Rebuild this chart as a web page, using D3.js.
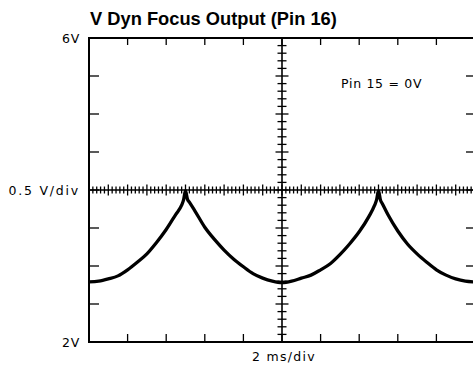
<!DOCTYPE html>
<html>
<head>
<meta charset="utf-8">
<script src="https://cdn.jsdelivr.net/npm/d3@7"></script>
<style>
  body { margin: 0; background: #fff; }
  svg { display: block; }
  .lbl { font-family: "DejaVu Sans", sans-serif; font-size: 12.5px; fill: #000; }
</style>
</head>
<body>
<script>
"use strict";

// trace values (time in ms, level in V)
var timesMs = [0, 0.5, 1, 1.5, 2, 2.5, 3, 3.5, 4, 4.5, 4.8, 4.9, 5, 5.1, 5.2, 5.5, 6, 6.5, 7, 7.5, 8, 8.5, 9, 9.5,
  10, 10.5, 11, 11.5, 12, 12.5, 13, 13.5, 14, 14.5, 14.8, 14.9, 15, 15.1, 15.2, 15.5, 16, 16.5, 17, 17.5, 18, 18.5, 19, 19.5, 20];
var volts = [2.79, 2.80, 2.83, 2.87, 2.95, 3.05, 3.16, 3.31, 3.48, 3.68, 3.80, 3.87, 3.99, 3.88, 3.84, 3.72, 3.51, 3.35, 3.21, 3.09, 2.99, 2.90, 2.84, 2.80,
  2.78, 2.80, 2.84, 2.88, 2.95, 3.03, 3.15, 3.29, 3.45, 3.65, 3.80, 3.87, 3.99, 3.87, 3.82, 3.67, 3.46, 3.29, 3.16, 3.05, 2.95, 2.88, 2.83, 2.80, 2.79];

var xDomain = [0, 20];     // 10 divs x 2 ms
var yDomain = [2, 6];      // 8 divs x 0.5 V
var xMajor = [0, 2, 4, 6, 8, 10, 12, 14, 16, 18, 20];
var yMajor = [2, 2.5, 3, 3.5, 4, 4.5, 5, 5.5, 6];

var titleText = "V Dyn Focus Output (Pin 16)";
var yLabels = ["6V", "0.5 V/div", "2V"];
var yLabelValues = [6, 4, 2];
var xLabel = "2 ms/div";
var noteText = "Pin  15 = 0V";

var W = 473, H = 370;
var plot = {left: 89, right: 475, top: 38, bottom: 342};

var svg = d3.select("body").append("svg")
  .attr("width", W)
  .attr("height", H);

var x = d3.scaleLinear().domain(xDomain).range([plot.left, plot.right]);
var y = d3.scaleLinear().domain(yDomain).range([plot.bottom, plot.top]);

var xMid = x(10), yMid = y(4);

// minor ticks for the centre cross (5 per div)
var xMinor = d3.range(0, 101).map(function(i) { return i * 0.2; });
var yMinor = d3.range(0, 41).map(function(i) { return 2 + i * 0.1; });

// ticks on the frame edges
var edge = svg.append("g").attr("stroke", "#000").attr("stroke-width", 1.3);

edge.selectAll(".tt").data(xMajor.slice(1, -1)).enter().append("line")
  .attr("x1", function(d) { return x(d); }).attr("x2", function(d) { return x(d); })
  .attr("y1", plot.top).attr("y2", plot.top + 7);
edge.selectAll(".tb").data(xMajor.slice(1, -1)).enter().append("line")
  .attr("x1", function(d) { return x(d); }).attr("x2", function(d) { return x(d); })
  .attr("y1", plot.bottom).attr("y2", plot.bottom - 8);
edge.selectAll(".tl").data(yMajor.slice(1, -1)).enter().append("line")
  .attr("x1", plot.left).attr("x2", plot.left + 10)
  .attr("y1", function(d) { return y(d); }).attr("y2", function(d) { return y(d); });
edge.selectAll(".tr").data(yMajor.slice(1, -1)).enter().append("line")
  .attr("x1", plot.right).attr("x2", plot.right - 9)
  .attr("y1", function(d) { return y(d); }).attr("y2", function(d) { return y(d); });

// centre cross
var cross = svg.append("g").attr("stroke", "#000").attr("stroke-width", 1.3);

cross.append("line")
  .attr("x1", plot.left).attr("x2", plot.right)
  .attr("y1", yMid).attr("y2", yMid).attr("stroke-width", 1.6);
cross.append("line")
  .attr("x1", xMid).attr("x2", xMid)
  .attr("y1", plot.top).attr("y2", plot.bottom).attr("stroke-width", 1.6);

cross.selectAll(".hx").data(xMinor).enter().append("line")
  .attr("x1", function(d) { return x(d); }).attr("x2", function(d) { return x(d); })
  .attr("y1", function(d, i) { return yMid - (i % 5 === 0 ? 5.5 : 3.5); })
  .attr("y2", function(d, i) { return yMid + (i % 5 === 0 ? 5.5 : 3.5); });
cross.selectAll(".vy").data(yMinor).enter().append("line")
  .attr("y1", function(d) { return y(d); }).attr("y2", function(d) { return y(d); })
  .attr("x1", function(d, i) { return xMid - (i % 5 === 0 ? 6.5 : 4.5); })
  .attr("x2", function(d, i) { return xMid + (i % 5 === 0 ? 6.5 : 4.5); });

// frame
svg.append("rect")
  .attr("x", plot.left).attr("y", plot.top)
  .attr("width", plot.right - plot.left).attr("height", plot.bottom - plot.top)
  .attr("fill", "none").attr("stroke", "#000").attr("stroke-width", 2);

// trace
var trace = timesMs.map(function(t, i) { return [t, volts[i]]; });
var line = d3.line()
  .x(function(d) { return x(d[0]); })
  .y(function(d) { return y(d[1]); })
  .curve(d3.curveMonotoneX);

svg.append("path")
  .datum(trace)
  .attr("d", line)
  .attr("fill", "none")
  .attr("stroke", "#000")
  .attr("stroke-width", 3.3)
  .attr("stroke-linejoin", "round");

// texts
svg.append("text")
  .attr("x", 90).attr("y", 25)
  .attr("font-family", "'Liberation Sans', Arial, sans-serif")
  .attr("font-weight", "bold")
  .attr("font-size", 18.3)
  .text(titleText);

svg.selectAll(".ylab").data(yLabels).enter().append("text")
  .attr("class", "lbl")
  .attr("x", 80)
  .attr("y", function(d, i) { return y(yLabelValues[i]) + 4.5; })
  .attr("text-anchor", "end")
  .style("letter-spacing", function(d) { return d.length > 3 ? "1.8px" : "0.8px"; })
  .text(function(d) { return d; });

svg.append("text")
  .attr("class", "lbl")
  .attr("x", 252).attr("y", 361)
  .style("letter-spacing", "1.3px")
  .text(xLabel);

svg.append("text")
  .attr("class", "lbl")
  .attr("x", 341).attr("y", 88)
  .style("letter-spacing", "0.7px")
  .text(noteText);
</script>
</body>
</html>
